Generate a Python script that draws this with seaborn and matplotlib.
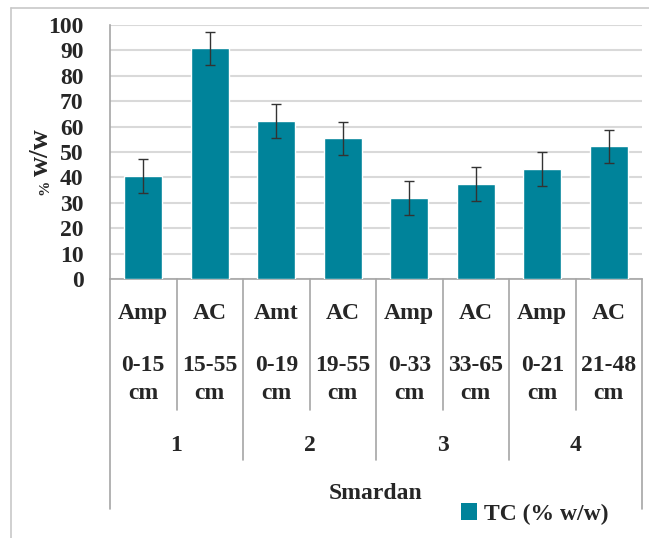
import matplotlib
matplotlib.use('Agg')
import matplotlib.pyplot as plt
import matplotlib.transforms as mtransforms
from matplotlib.lines import Line2D
from matplotlib.patches import Patch
import seaborn as sns
import pandas as pd

# data
horizons = ['Amp', 'AC', 'Amt', 'AC', 'Amp', 'AC', 'Amp', 'AC']
depths = ['0-15\ncm', '15-55\ncm', '0-19\ncm', '19-55\ncm', '0-33\ncm', '33-65\ncm', '0-21\ncm', '21-48\ncm']
profiles = ['1', '2', '3', '4']
tc_values = [40.6, 90.8, 62.3, 55.4, 31.8, 37.4, 43.4, 52.2]
tc_errors = [6.6, 6.6, 6.7, 6.5, 6.7, 6.7, 6.7, 6.6]

df = pd.DataFrame({'sample': [h + ' ' + d for h, d in zip(horizons, depths)], 'TC': tc_values})

sns.set_style('white')
plt.rcParams['font.family'] = ['Liberation Serif', 'DejaVu Serif']
plt.rcParams['font.weight'] = 'bold'

bar_color = '#00839a'
line_gray = '#a6a6a6'
fs = 17

fig = plt.figure(figsize=(6.49, 5.38), dpi=100)
ax = fig.add_axes([110 / 649, 1 - 279 / 538, 532 / 649, 254 / 538])

sns.barplot(data=df, x='sample', y='TC', color=bar_color, width=0.57, saturation=1, ax=ax, zorder=3)
xpos = ax.get_xticks()
ax.errorbar(xpos, tc_values, yerr=tc_errors, fmt='none', ecolor='#333333', elinewidth=1, capsize=3.5, capthick=1, zorder=4)
ax.set_xlim(-0.5, len(tc_values) - 0.5)

ax.set_ylim(0, 100)
ax.set_yticks(range(0, 101, 10))
ax.yaxis.grid(True, color='#d9d9d9', linewidth=1.5, zorder=0)
ax.set_axisbelow(True)
ax.tick_params(axis='y', length=0, pad=19, labelsize=fs)
for lab in ax.get_yticklabels():
    lab.set_fontweight('bold')
ax.set_xticks([])
ax.set_xlabel('')
ax.set_ylabel('')
for side in ['top', 'right']:
    ax.spines[side].set_visible(False)
ax.spines['left'].set_color(line_gray)
ax.spines['bottom'].set_color(line_gray)
ax.spines['left'].set_linewidth(1.2)
ax.spines['bottom'].set_linewidth(1.2)

# hierarchical category axis below the bars
trans = mtransforms.blended_transform_factory(ax.transData, ax.transAxes)
n = len(xpos)
edges = [xpos[0] - 0.5] + [x + 0.5 for x in xpos]
for i, e in enumerate(edges):
    if i == 0 or i == n:
        y_end = -0.906
    elif i % 2 == 0:
        y_end = -0.713
    else:
        y_end = -0.516
    ax.add_line(Line2D([e, e], [0, y_end], transform=trans, color=line_gray, linewidth=1.2, clip_on=False))

for x, h, d in zip(xpos, horizons, depths):
    ax.text(x, -0.134, h, transform=trans, ha='center', va='center', fontsize=fs, fontweight='bold')
    ax.text(x, -0.396, d, transform=trans, ha='center', va='center', fontsize=fs, fontweight='bold', linespacing=1.4)
for j, p in enumerate(profiles):
    ax.text((xpos[2 * j] + xpos[2 * j + 1]) / 2, -0.654, p, transform=trans, ha='center', va='center', fontsize=fs, fontweight='bold')
ax.text(0.5, -0.846, 'Smardan', transform=ax.transAxes, ha='center', va='center', fontsize=fs, fontweight='bold')

# y label: small % then w/w
fig.text(48 / 649, 1 - 176 / 538, 'w/w', rotation=90, rotation_mode='anchor', ha='left', va='baseline', fontsize=20, fontweight='bold')
fig.text(48 / 649, 1 - 195 / 538, '%', rotation=90, rotation_mode='anchor', ha='left', va='baseline', fontsize=11, fontweight='bold')

# legend
handle = Patch(facecolor=bar_color, edgecolor='none')
fig.legend([handle], ['TC (% w/w)'], loc='center right', bbox_to_anchor=(630 / 649, 1 - 514 / 538),
           frameon=False, prop={'size': fs, 'weight': 'bold'}, handlelength=0.7, handleheight=0.7, handletextpad=0.3)

# outer chart frame
fig.add_artist(Line2D([11 / 649, 11 / 649], [0, 1 - 8 / 538], transform=fig.transFigure, color='#c8c8c8', linewidth=1.2))
fig.add_artist(Line2D([11 / 649, 1], [1 - 8 / 538, 1 - 8 / 538], transform=fig.transFigure, color='#c8c8c8', linewidth=1.2))

fig.savefig('out.png', dpi=100)
